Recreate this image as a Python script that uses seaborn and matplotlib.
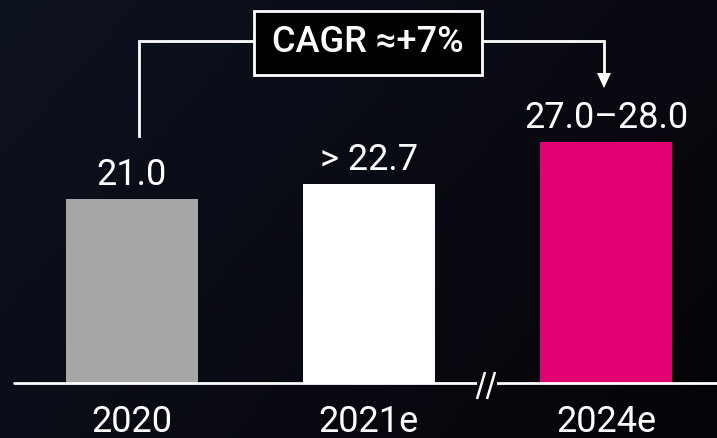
import numpy as np
import pandas as pd
import matplotlib
matplotlib.use("Agg")
import matplotlib.pyplot as plt
import seaborn as sns
from matplotlib.patches import Rectangle

# ---- data ----
categories = ["2020", "2021e", "2024e"]
values = [21.0, 22.7, 27.5]
value_labels = ["21.0", "> 22.7", "27.0\u201328.0"]
bar_colors = ["#a6a6a6", "#ffffff", "#e20074"]
cagr_text = "CAGR \u2248+7%"

sns.set_theme(style="white")
plt.rcParams["font.family"] = ["Roboto", "DejaVu Sans"]

W, H, DPI = 717, 439, 100
fig = plt.figure(figsize=(W / DPI, H / DPI), dpi=DPI)

# background gradient
bg = fig.add_axes([0, 0, 1, 1], zorder=0)
bg.set_axis_off()
nx, ny = 200, 120
xx, yy = np.meshgrid(np.linspace(0, 1, nx), np.linspace(0, 1, ny))
t = np.clip(0.65 * xx + 0.35 * (1 - yy), 0, 1)[..., None]
c0 = np.array([0x0e, 0x13, 0x20]) / 255.0   # navy (left/bottom)
c1 = np.array([0x05, 0x03, 0x08]) / 255.0   # near black (right/top)
img = c0 * (1 - t) + c1 * t
bg.imshow(img, aspect="auto", extent=[0, 1, 0, 1], origin="lower")
bg.set_xlim(0, 1); bg.set_ylim(0, 1)

# main axes: baseline at pixel row 384
base_px = 384
px_per_unit = 8.762
ax = fig.add_axes([0, (H - base_px) / H, 1, base_px / H], zorder=1)
ax.patch.set_alpha(0)

df = pd.DataFrame({"cat": categories, "val": values})
sns.barplot(data=df, x="cat", y="val", hue="cat", palette=bar_colors,
            width=0.557, legend=False, ax=ax, saturation=1, linewidth=0)

x_lo = -132 / 237
x_hi = x_lo + W / 237
ax.set_xlim(x_lo, x_hi)
ax.set_ylim(0, base_px / px_per_unit)
for s in ax.spines.values():
    s.set_visible(False)
ax.set_yticks([])
ax.set_xlabel(""); ax.set_ylabel("")
ax.tick_params(axis="x", length=0, pad=14.5, labelsize=26, colors="white")

def dx(px):
    return x_lo + px / 237

def dy(py):
    return (base_px - py) / px_per_unit

# baseline
ax.axhline(0, xmin=14 / W, xmax=1, color="white", lw=2, zorder=3, clip_on=False)

# value labels
for i, (v, lab) in enumerate(zip(values, value_labels)):
    ax.text(i, v + 15 / px_per_unit, lab, ha="center", va="baseline",
            color="white", fontsize=26, zorder=4)

# axis break
gap_c = "#070609"
ax.add_patch(Rectangle((dx(477), dy(388)), dx(497) - dx(477), dy(380) - dy(388),
                       color=gap_c, zorder=4, clip_on=False, lw=0))
for sx in (477, 487):
    ax.plot([dx(sx), dx(sx + 8)], [dy(400), dy(373)], color="white", lw=1.8,
            zorder=5, clip_on=False, solid_capstyle="butt")

# CAGR bracket
lw = 2
y_top = dy(42)
ax.plot([dx(139), dx(139), dx(254)], [dy(137), y_top, y_top], color="white",
        lw=lw, zorder=4, solid_capstyle="projecting", solid_joinstyle="miter")
ax.plot([dx(482), dx(604), dx(604)], [y_top, y_top, dy(74)], color="white",
        lw=lw, zorder=4, solid_capstyle="butt", solid_joinstyle="miter")
# arrow head
ax.fill([dx(597), dx(611), dx(604)], [dy(74), dy(74), dy(89)], color="white",
        zorder=4, lw=0)
# box
ax.add_patch(Rectangle((dx(254), dy(76)), dx(482) - dx(254), dy(12) - dy(76),
                       facecolor="black", edgecolor="white", lw=2, zorder=4))
ax.text((dx(254) + dx(482)) / 2, dy(43), cagr_text, ha="center", va="center",
        color="white", fontsize=26, fontweight="medium", zorder=5)

fig.savefig("out.png", dpi=DPI)
